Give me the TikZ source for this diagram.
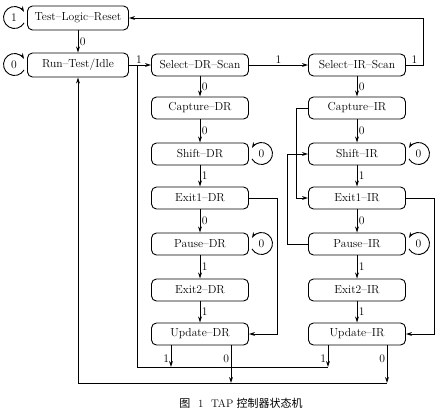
\documentclass[tikz,border=0pt]{standalone}
\usepackage{fontspec}
\newfontfamily\cjk{Noto Sans CJK SC}
\usetikzlibrary{arrows.meta}
\begin{document}
\begin{tikzpicture}[x=1pt,y=1pt,
  st/.style={draw, rounded corners=5pt, minimum width=97pt, minimum height=22pt, inner sep=0pt, font=\fontsize{11.6}{13}\selectfont, line width=0.9pt},
  wire/.style={line width=0.9pt},
  arr/.style={wire, -{Stealth[length=6pt,width=3.8pt]}},
  lab/.style={font=\fontsize{11.6}{13}\selectfont, inner sep=1.5pt},
]
\useasboundingbox (0,0) rectangle (441,-410);
% top nodes
\node[st, minimum width=101pt, minimum height=24pt] (tlr) at (78,-18) {Test--Logic--Reset};
\node[st, minimum width=101pt, minimum height=24pt] (rti) at (78,-65) {Run--Test/Idle};
\node[st] (sdr) at (200,-65) {Select--DR--Scan};
\node[st] (sir) at (357,-65) {Select--IR--Scan};
% DR column
\node[st] (cdr) at (200,-108) {Capture--DR};
\node[st] (shdr) at (200,-154) {Shift--DR};
\node[st] (e1dr) at (200,-198) {Exit1--DR};
\node[st] (pdr) at (200,-244) {Pause--DR};
\node[st] (e2dr) at (200,-290) {Exit2--DR};
\node[st] (udr) at (200,-334) {Update--DR};
% IR column
\node[st] (cir) at (357,-108) {Capture--IR};
\node[st] (shir) at (357,-154) {Shift--IR};
\node[st] (e1ir) at (357,-198) {Exit1--IR};
\node[st] (pir) at (357,-244) {Pause--IR};
\node[st] (e2ir) at (357,-290) {Exit2--IR};
\node[st] (uir) at (357,-334) {Update--IR};
% junctions
\coordinate (j1) at (137,-65);
\coordinate (bot1) at (328,-367);
\coordinate (bot0) at (387,-383);
% self loops
\draw[arr] ([xshift=-3pt,yshift=-5pt]tlr.west) arc[start angle=-30,end angle=-330,radius=11];
\node[lab] (l1) at ([xshift=-13pt,yshift=0.5pt]tlr.west) {1};
\draw[arr] ([xshift=-3pt,yshift=-5pt]rti.west) arc[start angle=-30,end angle=-330,radius=11];
\node[lab] (l2) at ([xshift=-13pt,yshift=0.5pt]rti.west) {0};
\foreach \n in {shdr,pdr,shir,pir}{
  \draw[arr] ([xshift=3pt,yshift=-5pt]\n.east) arc[start angle=210,end angle=510,radius=11];
  \node[lab] at ([xshift=12.5pt,yshift=0.5pt]\n.east) {0};
}
% main edges
\draw[arr] (tlr) -- node[lab,right]{0} (rti);
\draw[arr] (rti) -- node[lab,above,pos=0.45]{1} (sdr);
\draw[arr] (sdr) -- node[lab,above]{1} (sir);
\draw[arr] (sir.east) -- node[lab,above]{1} ++(17,0) |- (tlr.east);
% DR chain
\draw[arr] (sdr) -- node[lab,right]{0} (cdr);
\draw[arr] (cdr) -- node[lab,right]{0} (shdr);
\draw[arr] (shdr) -- node[lab,right]{1} (e1dr);
\draw[arr] (e1dr) -- node[lab,right]{0} (pdr);
\draw[arr] (pdr) -- node[lab,right]{1} (e2dr);
\draw[arr] (e2dr) -- node[lab,right]{1} (udr);
% IR chain
\draw[arr] (sir) -- node[lab,right]{0} (cir);
\draw[arr] (cir) -- node[lab,right]{0} (shir);
\draw[arr] (shir) -- node[lab,right]{1} (e1ir);
\draw[arr] (e1ir) -- node[lab,right]{0} (pir);
\draw[arr] (pir) -- node[lab,right]{1} (e2ir);
\draw[arr] (e2ir) -- node[lab,right]{1} (uir);
% side connections
\draw[arr] (e1dr.east) -- ++(28,0) |- (udr.east);
\draw[arr] (e1ir.east) -- ++(28,0) |- (uir.east);
\draw[arr] (cir.west) -- ++(-12,0) |- (e1ir.west);
\draw[arr] (pir.west) -- ++(-21,0) |- (shir.west);
% update exits
\draw[arr] ([xshift=-29pt]udr.south) -- node[lab,left,pos=0.6]{1} ([xshift=-29pt]udr.south |- bot1);
\draw[arr] ([xshift=31pt]udr.south) -- node[lab,left,pos=0.35]{0} ([xshift=31pt]udr.south |- bot0);
\draw[arr] ([xshift=-29pt]uir.south) -- node[lab,left,pos=0.6]{1} ([xshift=-29pt]uir.south |- bot1);
\draw[arr] ([xshift=30pt]uir.south) -- node[lab,left,pos=0.35]{0} ([xshift=30pt]uir.south |- bot0);
\draw[wire] (bot1) -| (j1);
\draw[arr] (bot0) -| (rti.south);
% caption
\node[font=\fontsize{11}{12}\selectfont] (cap) at (241,-403) {{\cjk 图}\hspace{0.7em}1\hspace{0.7em}TAP\hspace{0.3em}{\cjk 控制器状态机}};
\end{tikzpicture}
\end{document}
